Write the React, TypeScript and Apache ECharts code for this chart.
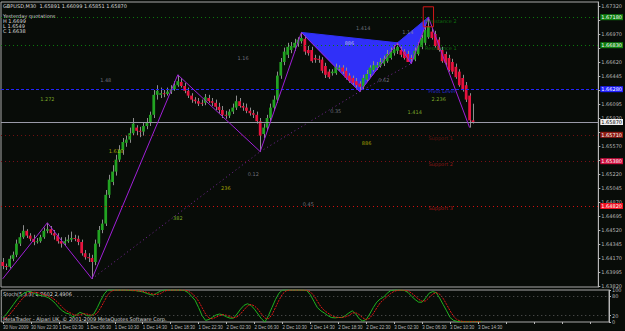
import React, { useEffect, useRef } from "react";
import * as echarts from "echarts";

// ---------- DATA ----------
const SLOTS = 174; // bars incl. chart shift
const timeTicks = ["30 Nov 2009", "30 Nov 22:30", "1 Dec 02:30", "1 Dec 06:30", "1 Dec 10:30", "1 Dec 14:30", "1 Dec 18:30", "1 Dec 22:30", "2 Dec 02:30", "2 Dec 06:30", "2 Dec 10:30", "2 Dec 14:30", "2 Dec 18:30", "2 Dec 22:30", "3 Dec 02:30", "3 Dec 06:30", "3 Dec 10:30", "3 Dec 14:30"];
const priceTicks = [1.6732, 1.67145, 1.6697, 1.66795, 1.6662, 1.66445, 1.6627, 1.66095, 1.6592, 1.65745, 1.6557, 1.65395, 1.6522, 1.65045, 1.6487, 1.64695, 1.6452, 1.64345, 1.6417, 1.63995, 1.6382];
// labels that are not covered by the level boxes
const priceLabels = [1.6732, 1.6697, 1.6662, 1.66445, 1.66095, 1.6592, 1.6557, 1.6522, 1.65045, 1.6487, 1.64695, 1.6452, 1.64345, 1.6417, 1.63995, 1.6382];

const opens = [1.6412,1.6407,1.6406,1.6416,1.6421,1.6435,1.6443,1.6451,1.6445,1.6441,
1.6437,1.6438,1.6443,1.6451,1.6453,1.6448,1.6445,1.6438,1.6435,1.6438,
1.6440,1.6442,1.6441,1.6437,1.6423,1.6418,1.6417,1.6412,1.6435,1.6452,
1.6460,1.6496,1.6512,1.6525,1.6540,1.6552,1.6561,1.6565,1.6573,1.6580,
1.6576,1.6575,1.6582,1.6587,1.6596,1.6621,1.6621,1.6623,1.6622,1.6625,
1.6628,1.6633,1.6637,1.6632,1.6626,1.6620,1.6615,1.6613,1.6611,1.6611,
1.6617,1.6613,1.6611,1.6606,1.6602,1.6596,1.6595,1.6600,1.6605,1.6613,
1.6607,1.6605,1.6601,1.6598,1.6596,1.6588,1.6572,1.6580,1.6592,1.6605,
1.6615,1.6645,1.6662,1.6671,1.6677,1.6680,1.6685,1.6688,1.6691,1.6677,
1.6677,1.6667,1.6666,1.6665,1.6657,1.6650,1.6648,1.6648,1.6653,1.6655,
1.6651,1.6645,1.6642,1.6638,1.6635,1.6631,1.6640,1.6647,1.6652,1.6655,
1.6657,1.6660,1.6663,1.6667,1.6673,1.6676,1.6677,1.6675,1.6672,1.6667,
1.6665,1.6672,1.6681,1.6686,1.6693,1.6700,1.6697,1.6690,1.6677,1.6672,
1.6667,1.6662,1.6656,1.6650,1.6642,1.6633,1.6620,1.65891];
const closes = [1.6407,1.6406,1.6416,1.6421,1.6435,1.6443,1.6451,1.6445,1.6441,1.6437,
1.6438,1.6443,1.6451,1.6453,1.6448,1.6445,1.6438,1.6435,1.6438,1.6440,
1.6442,1.6441,1.6437,1.6423,1.6418,1.6417,1.6412,1.6435,1.6452,1.6460,
1.6496,1.6515,1.6525,1.6540,1.6552,1.6562,1.6565,1.6573,1.6585,1.6576,
1.6575,1.6582,1.6587,1.6596,1.6621,1.6626,1.6623,1.6622,1.6625,1.6628,
1.6633,1.6638,1.6632,1.6626,1.6620,1.6615,1.6613,1.6610,1.6610,1.6618,
1.6613,1.6611,1.6606,1.6602,1.6596,1.6595,1.6600,1.6605,1.6613,1.6607,
1.6605,1.6601,1.6598,1.6596,1.6588,1.6570,1.6580,1.6592,1.6605,1.6615,
1.6645,1.6662,1.6675,1.6681,1.6682,1.6686,1.6690,1.6692,1.6675,1.6673,
1.6663,1.6665,1.6665,1.6651,1.6646,1.6643,1.6650,1.6656,1.6655,1.6650,
1.6642,1.6638,1.6636,1.6633,1.6631,1.6642,1.6647,1.6655,1.6658,1.6658,
1.6662,1.6666,1.6672,1.6675,1.6678,1.6681,1.6671,1.6667,1.6662,1.6666,
1.6676,1.6683,1.6692,1.6702,1.6706,1.6692,1.6682,1.6677,1.6663,1.6661,
1.6652,1.6650,1.6643,1.6633,1.6627,1.6615,1.65891,1.6587];
const highs = [1.6417,1.6410,1.6420,1.6425,1.6440,1.6448,1.6458,1.6453,1.6448,1.6446,
1.6442,1.6446,1.6455,1.6461,1.6457,1.6452,1.6448,1.6443,1.6443,1.6446,
1.6450,1.6446,1.6445,1.6440,1.6427,1.6423,1.6421,1.6440,1.6457,1.6465,
1.6502,1.6521,1.6533,1.6546,1.6558,1.6567,1.6570,1.6580,1.6592,1.6583,
1.6581,1.6587,1.6592,1.6600,1.6627,1.6633,1.6630,1.6627,1.6630,1.6633,
1.6638,1.6646,1.6642,1.6636,1.6630,1.6623,1.6618,1.6617,1.6615,1.6622,
1.6621,1.6617,1.6615,1.6611,1.6607,1.6601,1.6603,1.6610,1.6620,1.6617,
1.6611,1.6610,1.6605,1.6602,1.6600,1.6592,1.6585,1.6596,1.6610,1.6620,
1.6650,1.6667,1.6680,1.6686,1.6687,1.6691,1.6693,1.6699,1.6695,1.6682,
1.6681,1.6671,1.6670,1.6668,1.6661,1.6653,1.6653,1.6660,1.6658,1.6658,
1.6655,1.6648,1.6645,1.6642,1.6638,1.6646,1.6652,1.6658,1.6663,1.6662,
1.6667,1.6670,1.6677,1.6680,1.6683,1.6686,1.6681,1.6678,1.6676,1.6671,
1.6680,1.6687,1.6696,1.6706,1.6718,1.6705,1.6701,1.6693,1.6681,1.6675,
1.6671,1.6666,1.6660,1.6653,1.6646,1.6637,1.6623,1.66099];
const lows = [1.6403,1.6402,1.6404,1.6413,1.6418,1.6432,1.6441,1.6442,1.6438,1.6433,
1.6435,1.6436,1.6441,1.6448,1.6446,1.6440,1.6435,1.6430,1.6432,1.6436,
1.6437,1.6438,1.6433,1.6420,1.6415,1.6412,1.6391,1.6408,1.6431,1.6448,
1.6457,1.6492,1.6508,1.6520,1.6537,1.6546,1.6556,1.6561,1.6570,1.6570,
1.6568,1.6570,1.6578,1.6582,1.6592,1.6615,1.6617,1.6618,1.6620,1.6622,
1.6626,1.6631,1.6630,1.6623,1.6617,1.6611,1.6610,1.6607,1.6607,1.6608,
1.6611,1.6607,1.6602,1.6598,1.6592,1.6591,1.6592,1.6597,1.6602,1.6605,
1.6601,1.6598,1.6595,1.6592,1.6585,1.6550,1.6567,1.6576,1.6588,1.6601,
1.6611,1.6641,1.6658,1.6667,1.6673,1.6676,1.6681,1.6685,1.6671,1.6670,
1.6661,1.6661,1.6661,1.6648,1.6642,1.6641,1.6645,1.6646,1.6651,1.6647,
1.6640,1.6636,1.6633,1.6630,1.6625,1.6628,1.6637,1.6643,1.6650,1.6652,
1.6655,1.6657,1.6661,1.6665,1.6670,1.6672,1.6668,1.6665,1.6662,1.6660,
1.6663,1.6670,1.6678,1.6683,1.6691,1.6690,1.6680,1.6675,1.6661,1.6658,
1.6650,1.6647,1.6641,1.6631,1.6625,1.6612,1.6580,1.65851];

const stochMain = [14,25,40,55,70,82,90,95,95,89,85,82,80,76,68,58,45,35,28,25,
16,22,30,26,20,19,25,45,68,88,100,100,100,100,100,100,99,98,98,96,
94,90,86,84,90,96,100,100,100,100,100,100,98,92,80,68,45,20,5,8,
15,22,25,22,16,12,12,25,40,52,57,52,40,25,10,0,20,45,70,90,
100,100,100,100,100,100,100,98,85,65,45,35,28,20,14,13,14,14,20,28,
35,25,10,3,8,25,45,62,72,78,90,98,100,100,100,98,92,80,70,62,
62,75,90,95,92,75,55,35,14,5,2,1,1,1,1,1,1,2];
const stochSignal = [8,14,25,38,52,66,78,86,92,93,92,88,84,80,76,68,58,46,36,30,
24,21,22,26,25,22,21,28,45,65,85,96,100,100,100,100,100,99,98,97,
96,93,90,87,86,88,95,99,100,100,100,100,100,97,90,80,65,45,25,12,
10,15,20,23,21,17,13,16,25,38,50,55,50,40,25,12,10,22,45,68,
87,97,100,100,100,100,100,99,94,83,65,48,36,28,21,16,14,14,16,20,
28,29,23,13,7,12,26,44,60,70,80,89,96,99,100,99,97,90,81,71,
65,66,76,87,92,87,74,55,35,18,7,3,1,1,1,1,1,1];

// zigzag turning points (bar index, price)
const zigzagIdx = [0, 13, 26, 51, 75, 87, 104, 115, 119, 124, 136];
const zigzagVal = [1.6391, 1.6461, 1.6391, 1.6646, 1.655, 1.6699, 1.6625, 1.6686, 1.666, 1.6718, 1.658];

// harmonic pattern triangles: XAB and BCD (bar index, price pairs)
const triangleA = [87, 1.6699, 104, 1.6625, 115, 1.6686];
const triangleB = [115, 1.6686, 119, 1.666, 124, 1.6718];

// dotted trend lines connecting lows
const trendFromIdx = [26, 75, 104];
const trendFromVal = [1.6391, 1.655, 1.6625];
const trendToIdx = [75, 104, 119];
const trendToVal = [1.655, 1.6625, 1.666];

// level lines
const levelNames = ["Resistance 2", "Resistance 1", "Pivot Level", "Support 1", "Support 2", "Support 3"];
const levelValues = [1.6718, 1.6683, 1.6628, 1.6571, 1.6538, 1.6482];
const levelLineColors = ["#0c7a0c", "#0c7a0c", "#2323ff", "#6e1010", "#7a0e18", "#d01010"];
const levelBoxColors = ["#0f7f0f", "#0f7f0f", "#2020ff", "#8e1a12", "#d01040", "#ee1020"];
const levelTextColors = ["#108a10", "#108a10", "#3434ff", "#7a1414", "#b01a1a", "#c81a1a"];
const levelTextIdx = [123, 123, 124, 124, 124, 124];
const levelTextVal = [1.6713, 1.668, 1.6626, 1.6567, 1.6534, 1.6479];
const bidPrice = 1.6587;

// ratio labels
const ratioIdx = [13, 30, 33, 65, 51, 73, 70, 105, 101, 97, 111, 120, 106, 127, 89, 118];
const ratioVal = [1.6616, 1.664, 1.6551, 1.6505, 1.6467, 1.6522, 1.6667, 1.6705, 1.6686, 1.6601, 1.664, 1.66, 1.6561, 1.6616, 1.6485, 1.67];
const ratioText = ["1.272", "1.48", "1.618", "236", "382", "0.12", "1.16", "1.414", "886", "0.35", "0.62", "1.414", "886", "2.236", "0.45", "1.14"];
const ratioColor = ["#9acd32", "#8a8a9a", "#c8c800", "#c8c800", "#9acd32", "#8a8a9a", "#8a8a9a", "#8a8a9a", "#d8d8e8", "#8a8a9a", "#8a8a9a", "#9acd32", "#c8c800", "#9acd32", "#8a8a9a", "#8a8a9a"];

// marked box around point D
const boxIdx = [123, 125];
const boxVal = [1.6731, 1.6706];

const headerLines = ["GBPUSD,M30  1.65891 1.66099 1.65851 1.65870", "", "Yesterday quotations", "H 1.6699", "L 1.6549", "C 1.6638"];
const stochTitle = "Stoch(5,3,3) 1.7602 2.4906";
const copyright = "MetaTrader - Alpari UK, \u00a9 2001-2009 MetaQuotes Software Corp.";

// ---------- COLORS ----------
const BG = "#080c08";
const BULL = "#22a322";
const BEAR = "#e8123e";
const WICK = "#8c8c8c";
const AXIS = "#b8b8b8";
const FONT = "DejaVu Sans";
const NARROW = "Liberation Sans";

export default function App() {
  const ref = useRef<HTMLDivElement>(null);
  useEffect(() => {
    if (!ref.current) return;
    const chart = echarts.init(ref.current, null, { renderer: "svg" });
    const cats = Array.from({ length: SLOTS }, (_, i) => String(i));
    const candleData = opens.map((o, i) => [i, o, closes[i], lows[i], highs[i]]);
    const zz: (number | null)[] = new Array(SLOTS).fill(null);
    zigzagIdx.forEach((ix, k) => (zz[ix] = zigzagVal[k]));

    const renderCandle = (params: any, api: any) => {
      const i = api.value(0);
      const o = api.value(1), c = api.value(2), l = api.value(3), h = api.value(4);
      const pO = api.coord([i, o]);
      const pC = api.coord([i, c]);
      const pL = api.coord([i, l]);
      const pH = api.coord([i, h]);
      const w = api.size([1, 0])[0] * 0.8;
      const x = Math.round(pO[0]) + 0.5;
      const top = Math.min(pO[1], pC[1]);
      const hh = Math.max(Math.abs(pO[1] - pC[1]), 1);
      const up = c >= o;
      return {
        type: "group",
        children: [
          { type: "line", shape: { x1: x, y1: pH[1], x2: x, y2: pL[1] }, style: { stroke: WICK, lineWidth: 1 } },
          { type: "rect", shape: { x: pO[0] - w / 2, y: top, width: w, height: hh }, style: { fill: up ? BULL : BEAR } },
        ],
      };
    };

    const renderTriangle = (params: any, api: any) => {
      const pts = [0, 1, 2].map((k) => api.coord([api.value(k * 2), api.value(k * 2 + 1)]));
      return { type: "polygon", shape: { points: pts }, style: { fill: "#3030f8", stroke: "#3030f8", lineWidth: 1 } };
    };

    const renderBox = (params: any, api: any) => {
      const bw = api.size([1, 0])[0];
      const p1 = api.coord([api.value(0), api.value(1)]);
      const p2 = api.coord([api.value(2), api.value(3)]);
      return {
        type: "rect",
        shape: { x: p1[0] - bw / 2, y: p1[1], width: p2[0] - p1[0] + bw, height: p2[1] - p1[1] },
        style: { fill: "none", stroke: "#d01818", lineWidth: 1 },
      };
    };

    const trendSeries = trendFromIdx.map((fi, k) => {
      const d: (number | null)[] = new Array(SLOTS).fill(null);
      d[fi] = trendFromVal[k];
      d[trendToIdx[k]] = trendToVal[k];
      return {
        type: "line", xAxisIndex: 0, yAxisIndex: 0, data: d, connectNulls: true, symbol: "none", silent: true, z: 3,
        lineStyle: { color: "#7a2a9a", width: 1, type: [1, 3] },
      };
    });

    const levelMarks: any[] = levelValues.map((v, k) => ({
      yAxis: v,
      lineStyle: { color: levelLineColors[k], type: k === 2 ? [3, 2] : [1, 3], width: 1 },
      label: {
        show: true, position: "end", distance: 2, formatter: v.toFixed(5), fontSize: 5, fontFamily: FONT,
        color: "#ffffff", backgroundColor: levelBoxColors[k], padding: [1, 1, 0, 1],
      },
    }));
    levelMarks.push({
      yAxis: bidPrice,
      lineStyle: { color: "#9a9aa8", type: "solid", width: 1 },
      label: {
        show: true, position: "end", distance: 2, formatter: bidPrice.toFixed(5), fontSize: 5, fontFamily: FONT,
        color: "#000", backgroundColor: "#f0f0f0", padding: [1, 1, 0, 1],
      },
    });

    const textData: any[] = ratioIdx.map((ix, k) => ({
      value: [ix, ratioVal[k]], name: ratioText[k],
      label: { color: ratioColor[k], align: "center" },
    }));
    levelNames.forEach((n, k) => {
      textData.push({ value: [levelTextIdx[k], levelTextVal[k]], name: n, label: { color: levelTextColors[k], align: "left" } });
    });

    const option: any = {
      animation: false,
      backgroundColor: BG,
      grid: [
        { left: 1, right: 16, top: 2, bottom: 44, show: true, borderColor: "#a8a8a8", borderWidth: 1, backgroundColor: "transparent" },
        { left: 1, right: 16, top: 290, bottom: 9, show: true, borderColor: "#a8a8a8", borderWidth: 1, backgroundColor: "transparent" },
      ],
      xAxis: [
        { type: "category", gridIndex: 0, data: cats, boundaryGap: true, axisLine: { show: false }, axisTick: { show: false }, axisLabel: { show: false }, splitLine: { show: false } },
        {
          type: "category", gridIndex: 1, data: cats, boundaryGap: true,
          axisLine: { show: false },
          axisTick: { show: true, interval: 7, length: 2, alignWithLabel: true, lineStyle: { color: AXIS } },
          axisLabel: {
            show: true, interval: 7, align: "left", fontSize: 4.5, fontFamily: NARROW, color: AXIS, margin: 3,
            formatter: (_v: string, idx: number) => (idx % 8 === 0 && timeTicks[idx / 8]) ? timeTicks[idx / 8] : "",
          },
          splitLine: { show: false },
        },
      ],
      yAxis: [
        {
          type: "value", gridIndex: 0, position: "right", min: 1.638075, max: 1.6737, scale: true,
          axisLine: { show: true, lineStyle: { color: AXIS } },
          axisTick: { show: true, length: 2, customValues: priceTicks, lineStyle: { color: AXIS } },
          axisLabel: { show: true, customValues: priceLabels, fontSize: 5, fontFamily: FONT, color: AXIS, margin: 3, formatter: (v: number) => v.toFixed(5) },
          splitLine: { show: false },
        },
        {
          type: "value", gridIndex: 1, position: "right", min: 0, max: 100,
          axisLine: { show: true, lineStyle: { color: AXIS } },
          axisTick: { show: true, length: 2, customValues: [0, 20, 80, 100], lineStyle: { color: AXIS } },
          axisLabel: { show: true, customValues: [0, 20, 80, 100], fontSize: 5, fontFamily: FONT, color: AXIS, margin: 3 },
          splitLine: { show: false },
        },
      ],
      series: [
        { type: "custom", xAxisIndex: 0, yAxisIndex: 0, renderItem: renderTriangle, data: [triangleA, triangleB], encode: { x: [0, 2, 4], y: [1, 3, 5] }, z: 1, silent: true },
        ...trendSeries,
        { type: "custom", xAxisIndex: 0, yAxisIndex: 0, renderItem: renderCandle, data: candleData, encode: { x: 0, y: [1, 2, 3, 4] }, z: 4, silent: true },
        {
          type: "line", xAxisIndex: 0, yAxisIndex: 0, data: zz, connectNulls: true, symbol: "none", silent: true, z: 5,
          lineStyle: { color: "#a020d8", width: 1 },
        },
        { type: "custom", xAxisIndex: 0, yAxisIndex: 0, renderItem: renderBox, data: [[boxIdx[0], boxVal[0], boxIdx[1], boxVal[1]]], encode: { x: [0, 2], y: [1, 3] }, z: 6, silent: true },
        {
          type: "scatter", xAxisIndex: 0, yAxisIndex: 0, data: textData, symbolSize: 1, itemStyle: { color: "rgba(0,0,0,0)" }, silent: true, z: 7,
          label: { show: true, position: "inside", formatter: (p: any) => p.name, fontSize: 5, fontFamily: FONT },
          markLine: { symbol: "none", silent: true, animation: false, precision: 5, data: levelMarks },
        },
        {
          type: "line", xAxisIndex: 1, yAxisIndex: 1, data: stochMain, symbol: "none", silent: true,
          lineStyle: { color: "#1fb21f", width: 1 },
          markLine: {
            symbol: "none", silent: true, label: { show: false }, precision: 2,
            data: [{ yAxis: 80 }, { yAxis: 20 }],
            lineStyle: { color: "#5a5a5a", type: [1, 3], width: 1 },
          },
        },
        {
          type: "line", xAxisIndex: 1, yAxisIndex: 1, data: stochSignal, symbol: "none", silent: true,
          lineStyle: { color: "#e01818", width: 1, type: [2, 1] },
        },
      ],
      graphic: [
        ...headerLines.map((t, k) => ({
          type: "text", left: 3, top: 3 + k * 5, silent: true,
          style: { text: t, fill: "#d8d8d8", font: `5px '${FONT}'` },
        })),
        { type: "text", left: 3, top: 291, silent: true, style: { text: stochTitle, fill: "#d8d8d8", font: `5px '${FONT}'` } },
        { type: "text", left: 3, top: 316, silent: true, style: { text: copyright, fill: "#d8d8d8", font: `5px '${FONT}'` } },
      ],
    };
    chart.setOption(option);
    return () => chart.dispose();
  }, []);
  return <div ref={ref} style={{ position: "fixed", left: 0, top: 0, width: 625, height: 331 }} />;
}
